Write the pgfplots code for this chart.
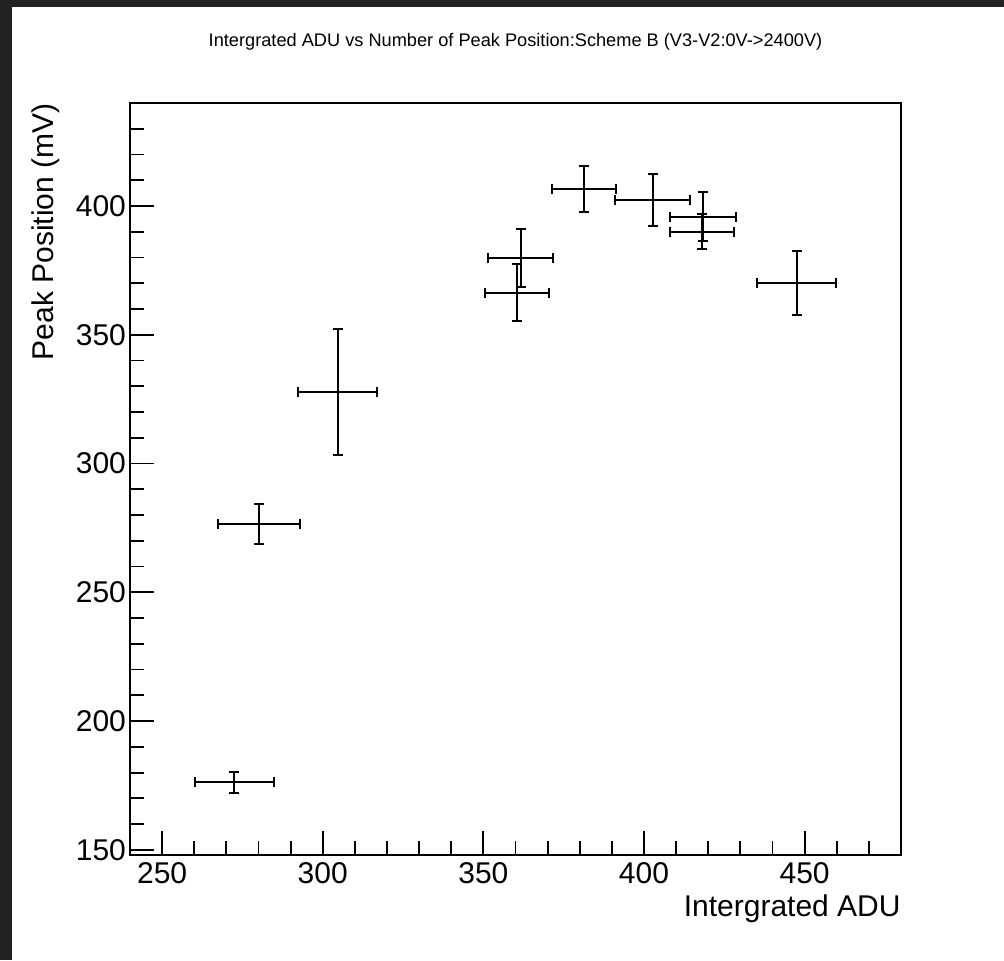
\documentclass[border=0pt]{standalone}
\usepackage{pgfplots}
\pgfplotsset{compat=1.18}
\usepackage{pgfplotstable}
\usepackage{fontspec}
\setmainfont{Liberation Sans}
\definecolor{frame}{HTML}{222222}
\pgfplotstableread{
x y ex ey
272.5 176.2 12.4 4.0
280.2 276.4 12.7 7.8
304.6 327.9 12.4 24.4
361.6 379.7 10.1 11.3
360.4 366.3 9.9 11.1
381.3 406.5 9.9 9.0
402.7 402.3 11.6 10.2
418.3 395.9 10.3 9.4
418.0 390.0 9.9 6.8
447.5 370.0 12.3 12.5
}\datatable
\begin{document}
\begin{tikzpicture}
\fill[frame] (0,0) rectangle (502pt,480pt);
\fill[white] (6pt,0) rectangle (502pt,476.25pt);
\useasboundingbox (0,0) rectangle (502pt,480pt);
\begin{axis}[
  at={(65pt,52.5pt)}, anchor=south west,
  scale only axis, width=385.5pt, height=376pt,
  xmin=240, xmax=480, ymin=148, ymax=440,
  xtick={250,300,...,450}, ytick={150,200,...,400},
  minor xtick={260,270,280,290,310,320,330,340,360,370,380,390,410,420,430,440,460,470},
  minor ytick={160,170,180,190,210,220,230,240,260,270,280,290,310,320,330,340,360,370,380,390,410,420,430},
  tick align=inside, xtick pos=bottom, ytick pos=left,
  major tick length=12pt, minor tick length=6.8pt,
  every tick/.style={black, line width=0.9pt},
  every minor tick/.style={black, line width=0.9pt},
  axis line style={line width=1pt},
  /pgf/number format/assume math mode=true,
  tick label style={font=\fontsize{15}{18}\selectfont},
  xticklabel style={yshift=0pt},
  yticklabel style={xshift=1.5pt},
  xlabel={Intergrated ADU},
  xlabel style={at={(axis description cs:1,-0.0519)}, anchor=north east, inner sep=0pt, font=\fontsize{15}{18}\selectfont},
  ylabel={Peak Position (mV)},
  ylabel style={at={(axis description cs:-0.0908,1)}, anchor=south east, inner sep=0pt, font=\fontsize{15}{18}\selectfont},
  title={Intergrated ADU vs Number of Peak Position:Scheme B (V3-V2:0V->2400V)},
  every axis title shift=0pt,
  title style={at={(axis description cs:0.5,1.0745)}, anchor=base, inner sep=0pt, font=\fontsize{9.1}{11}\selectfont},
]
\addplot[black, only marks, mark=*, mark size=0pt,
  error bars/.cd, x dir=both, x explicit, y dir=both, y explicit,
  error bar style={draw=black, line width=1pt},
  error mark options={rotate=90, draw=black, line width=1pt, mark size=2.5pt}]
  table[x=x, y=y, x error=ex, y error=ey] {\datatable};
\end{axis}
\end{tikzpicture}
\end{document}
